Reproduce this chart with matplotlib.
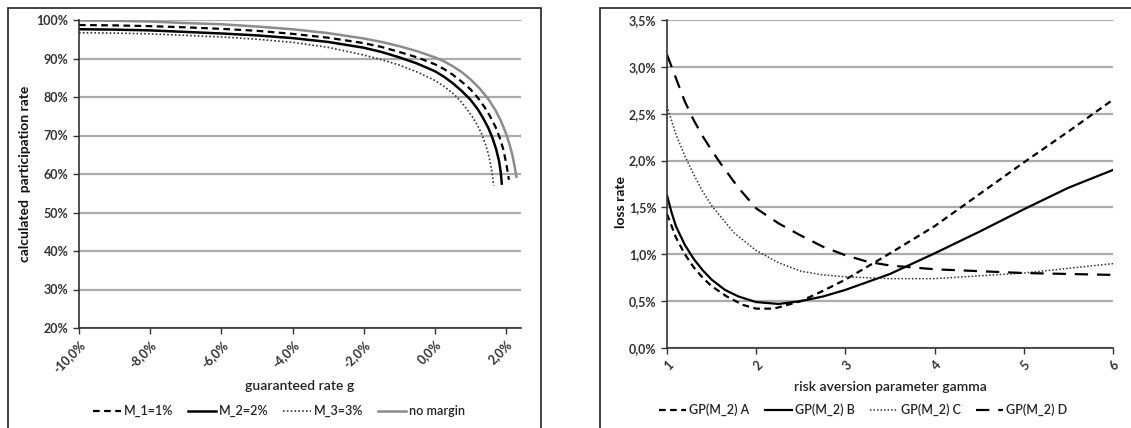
import matplotlib
matplotlib.use("Agg")
import matplotlib.pyplot as plt
from matplotlib.patches import Rectangle

# ---------------- data: left panel ----------------
g_nomargin = [-10, -9, -8, -7, -6, -5, -4, -3, -2, -1.5, -1, -0.5, 0, 0.25, 0.5, 0.75, 1.0, 1.25, 1.5,
              1.7, 1.85, 2.0, 2.1, 2.18, 2.24, 2.29]
p_nomargin = [99.9, 99.8, 99.6, 99.2, 98.9, 98.3, 97.6, 96.6, 95.2, 94.3, 93.2, 91.9, 90.3, 89.3, 88.0, 86.5,
              84.6, 82.3, 79.5, 76.6, 73.9, 70.5, 67.6, 64.8, 62.0, 59.3]

g_m1 = [-10, -9, -8, -7, -6, -5, -4, -3, -2, -1.5, -1, -0.5, 0, 0.25, 0.5, 0.75, 1.0, 1.2, 1.4, 1.55,
        1.7, 1.82, 1.92, 2.0, 2.05, 2.08]
p_m1 = [98.7, 98.6, 98.4, 98.1, 97.7, 97.2, 96.4, 95.4, 94.0, 93.0, 91.7, 90.3, 88.5, 87.3, 85.8, 84.0,
        82.0, 79.9, 77.3, 75.0, 72.3, 69.5, 66.5, 63.0, 60.3, 58.5]

g_m2 = [-10, -9, -8, -7, -6, -5, -4, -3, -2, -1.5, -1, -0.5, 0, 0.25, 0.5, 0.75, 1.0, 1.2, 1.35, 1.5,
        1.62, 1.72, 1.8, 1.85, 1.88]
p_m2 = [97.6, 97.5, 97.3, 96.9, 96.5, 96.0, 95.3, 94.3, 92.8, 91.7, 90.3, 88.7, 86.7, 85.3, 83.6, 81.6,
        79.3, 76.9, 74.6, 72.0, 69.3, 66.5, 63.5, 60.5, 57.5]

g_m3 = [-10, -9, -8, -7, -6, -5, -4, -3, -2, -1.5, -1, -0.5, 0, 0.25, 0.5, 0.7, 0.9, 1.05, 1.2, 1.32,
        1.42, 1.5, 1.57, 1.62, 1.65]
p_m3 = [96.7, 96.6, 96.4, 96.0, 95.6, 95.0, 94.2, 92.9, 90.9, 89.7, 88.3, 86.5, 84.3, 82.8, 81.0, 79.2,
        76.8, 74.9, 72.6, 70.3, 67.8, 65.3, 62.3, 59.5, 57.0]

left_xticks = [-10, -8, -6, -4, -2, 0, 2]
left_xticklabels = ["-10,0%", "-8,0%", "-6,0%", "-4,0%", "-2,0%", "0,0%", "2,0%"]
left_yticks = [20, 30, 40, 50, 60, 70, 80, 90, 100]
left_yticklabels = ["20%", "30%", "40%", "50%", "60%", "70%", "80%", "90%", "100%"]

# ---------------- data: right panel ----------------
gamma_a = [1.0, 1.1, 1.2, 1.3, 1.4, 1.5, 1.67, 1.85, 2.0, 2.2, 2.5, 2.75, 3.0, 3.5, 4.0, 4.5, 5.0, 5.5, 6.0]
loss_a = [1.43, 1.18, 1.00, 0.86, 0.75, 0.66, 0.55, 0.46, 0.42, 0.42, 0.50, 0.61, 0.73, 1.01, 1.30, 1.64,
          1.98, 2.31, 2.65]

gamma_b = [1.0, 1.05, 1.1, 1.2, 1.3, 1.4, 1.5, 1.65, 1.8, 2.0, 2.25, 2.5, 2.75, 3.0, 3.5, 4.0, 4.5, 5.0,
           5.5, 6.0]
loss_b = [1.63, 1.45, 1.30, 1.10, 0.95, 0.83, 0.73, 0.62, 0.55, 0.49, 0.47, 0.50, 0.55, 0.62, 0.79, 1.01,
          1.24, 1.48, 1.71, 1.90]

gamma_c = [1.0, 1.1, 1.2, 1.3, 1.4, 1.5, 1.75, 2.0, 2.25, 2.5, 2.75, 3.0, 3.5, 4.0, 4.5, 5.0, 5.5, 6.0]
loss_c = [2.58, 2.28, 2.05, 1.85, 1.67, 1.52, 1.23, 1.04, 0.91, 0.82, 0.78, 0.76, 0.74, 0.74, 0.77, 0.80,
          0.85, 0.90]

gamma_d = [1.0, 1.1, 1.2, 1.3, 1.4, 1.5, 1.6, 1.8, 2.0, 2.25, 2.5, 2.75, 3.0, 3.25, 3.5, 4.0, 4.5, 5.0,
           5.5, 6.0]
loss_d = [3.13, 2.88, 2.63, 2.43, 2.26, 2.11, 1.97, 1.71, 1.49, 1.33, 1.20, 1.08, 0.99, 0.92, 0.88, 0.84,
          0.82, 0.80, 0.79, 0.78]

right_xticks = [1, 2, 3, 4, 5, 6]
right_xticklabels = ["1", "2", "3", "4", "5", "6"]
right_yticks = [0, 0.5, 1.0, 1.5, 2.0, 2.5, 3.0, 3.5]
right_yticklabels = ["0,0%", "0,5%", "1,0%", "1,5%", "2,0%", "2,5%", "3,0%", "3,5%"]

# ---------------- figure ----------------
plt.rcParams['font.family'] = ['Lato', 'DejaVu Sans']
W, H = 1131, 428
fig = plt.figure(figsize=(W / 100, H / 100), dpi=100)


def fx(px):
    return px / W


def fy(py):
    return 1 - py / H


# panel frames
fig.add_artist(Rectangle((fx(8), fy(440)), fx(541) - fx(8), fy(8) - fy(440),
                         transform=fig.transFigure, fill=False, edgecolor='#222222',
                         linewidth=1.2, clip_on=False))
fig.add_artist(Rectangle((fx(600), fy(440)), fx(1145) - fx(600), fy(8) - fy(440),
                         transform=fig.transFigure, fill=False, edgecolor='#222222',
                         linewidth=1.2, clip_on=False))

tick_color = '#333333'
grid_color = '#ababab'


def style_axes(ax):
    for s in ['top', 'right']:
        ax.spines[s].set_visible(False)
    for s in ['left', 'bottom']:
        ax.spines[s].set_color('#333333')
        ax.spines[s].set_linewidth(1.2)
    ax.grid(axis='y', color=grid_color, linewidth=1.6)
    ax.set_axisbelow(True)
    ax.tick_params(axis='both', direction='out', length=4, width=1, color='#333333',
                   labelcolor=tick_color, labelsize=9)
    for lbl in ax.get_xticklabels() + ax.get_yticklabels():
        lbl.set_fontweight('bold')


# left axes
axL = fig.add_axes([fx(79), fy(328), fx(521) - fx(79), fy(20) - fy(328)])
axL.plot(g_m1, p_m1, color='black', linewidth=1.6, linestyle=(0, (3, 2)), label='M_1=1%')
axL.plot(g_m2, p_m2, color='black', linewidth=1.8, linestyle='-', label='M_2=2%')
axL.plot(g_m3, p_m3, color='#333333', linewidth=1.2, linestyle=(0, (1, 1.3)), label='M_3=3%')
axL.plot(g_nomargin, p_nomargin, color='#8c8c8c', linewidth=1.8, linestyle='-', label='no margin')
axL.set_xlim(-10, 2.42)
axL.set_ylim(20, 100)
axL.set_xticks(left_xticks)
axL.set_xticklabels(left_xticklabels, rotation=45, ha='right', va='top', rotation_mode='anchor')
axL.set_yticks(left_yticks)
axL.set_yticklabels(left_yticklabels)
style_axes(axL)
axL.set_xlabel('guaranteed rate g', fontsize=10, color='#222222', fontweight='semibold')
axL.set_ylabel('calculated  participation rate', fontsize=10, color='#111111', fontweight='bold')
axL.yaxis.set_label_coords(-0.108, 0.5)
axL.xaxis.set_label_coords(0.5, -0.17)

# right axes
axR = fig.add_axes([fx(667), fy(348), fx(1113) - fx(667), fy(20) - fy(348)])
axR.plot(gamma_a, loss_a, color='black', linewidth=1.6, linestyle=(0, (3, 2)), label='GP(M_2) A')
axR.plot(gamma_b, loss_b, color='black', linewidth=1.6, linestyle='-', label='GP(M_2) B')
axR.plot(gamma_c, loss_c, color='#333333', linewidth=1.1, linestyle=(0, (1, 1.3)), label='GP(M_2) C')
axR.plot(gamma_d, loss_d, color='black', linewidth=1.6, linestyle=(0, (6, 4)), label='GP(M_2) D')
axR.set_xlim(1, 6)
axR.set_ylim(0, 3.5)
axR.set_xticks(right_xticks)
axR.set_xticklabels(right_xticklabels, rotation=45, ha='right', va='top', rotation_mode='anchor')
axR.set_yticks(right_yticks)
axR.set_yticklabels(right_yticklabels)
style_axes(axR)
axR.set_xlabel('risk aversion parameter gamma', fontsize=10, color='#222222', fontweight='semibold')
axR.set_ylabel('loss rate', fontsize=10, color='#111111', fontweight='bold')
axR.yaxis.set_label_coords(-0.09, 0.445)
axR.xaxis.set_label_coords(0.5, -0.10)

# legends
hL, lL = axL.get_legend_handles_labels()
fig.legend(hL, lL, loc='center', bbox_to_anchor=(fx(279), fy(411)), ncol=4, frameon=False,
           handlelength=2.2, handletextpad=0.25, columnspacing=1.2,
           labelcolor='#222222', prop={'weight': 'semibold', 'size': 9})
hR, lR = axR.get_legend_handles_labels()
fig.legend(hR, lR, loc='center', bbox_to_anchor=(fx(863), fy(410)), ncol=4, frameon=False,
           handlelength=2.2, handletextpad=0.25, columnspacing=1.2,
           labelcolor='#222222', prop={'weight': 'semibold', 'size': 9})

fig.savefig('out.png', dpi=100, facecolor='white')
